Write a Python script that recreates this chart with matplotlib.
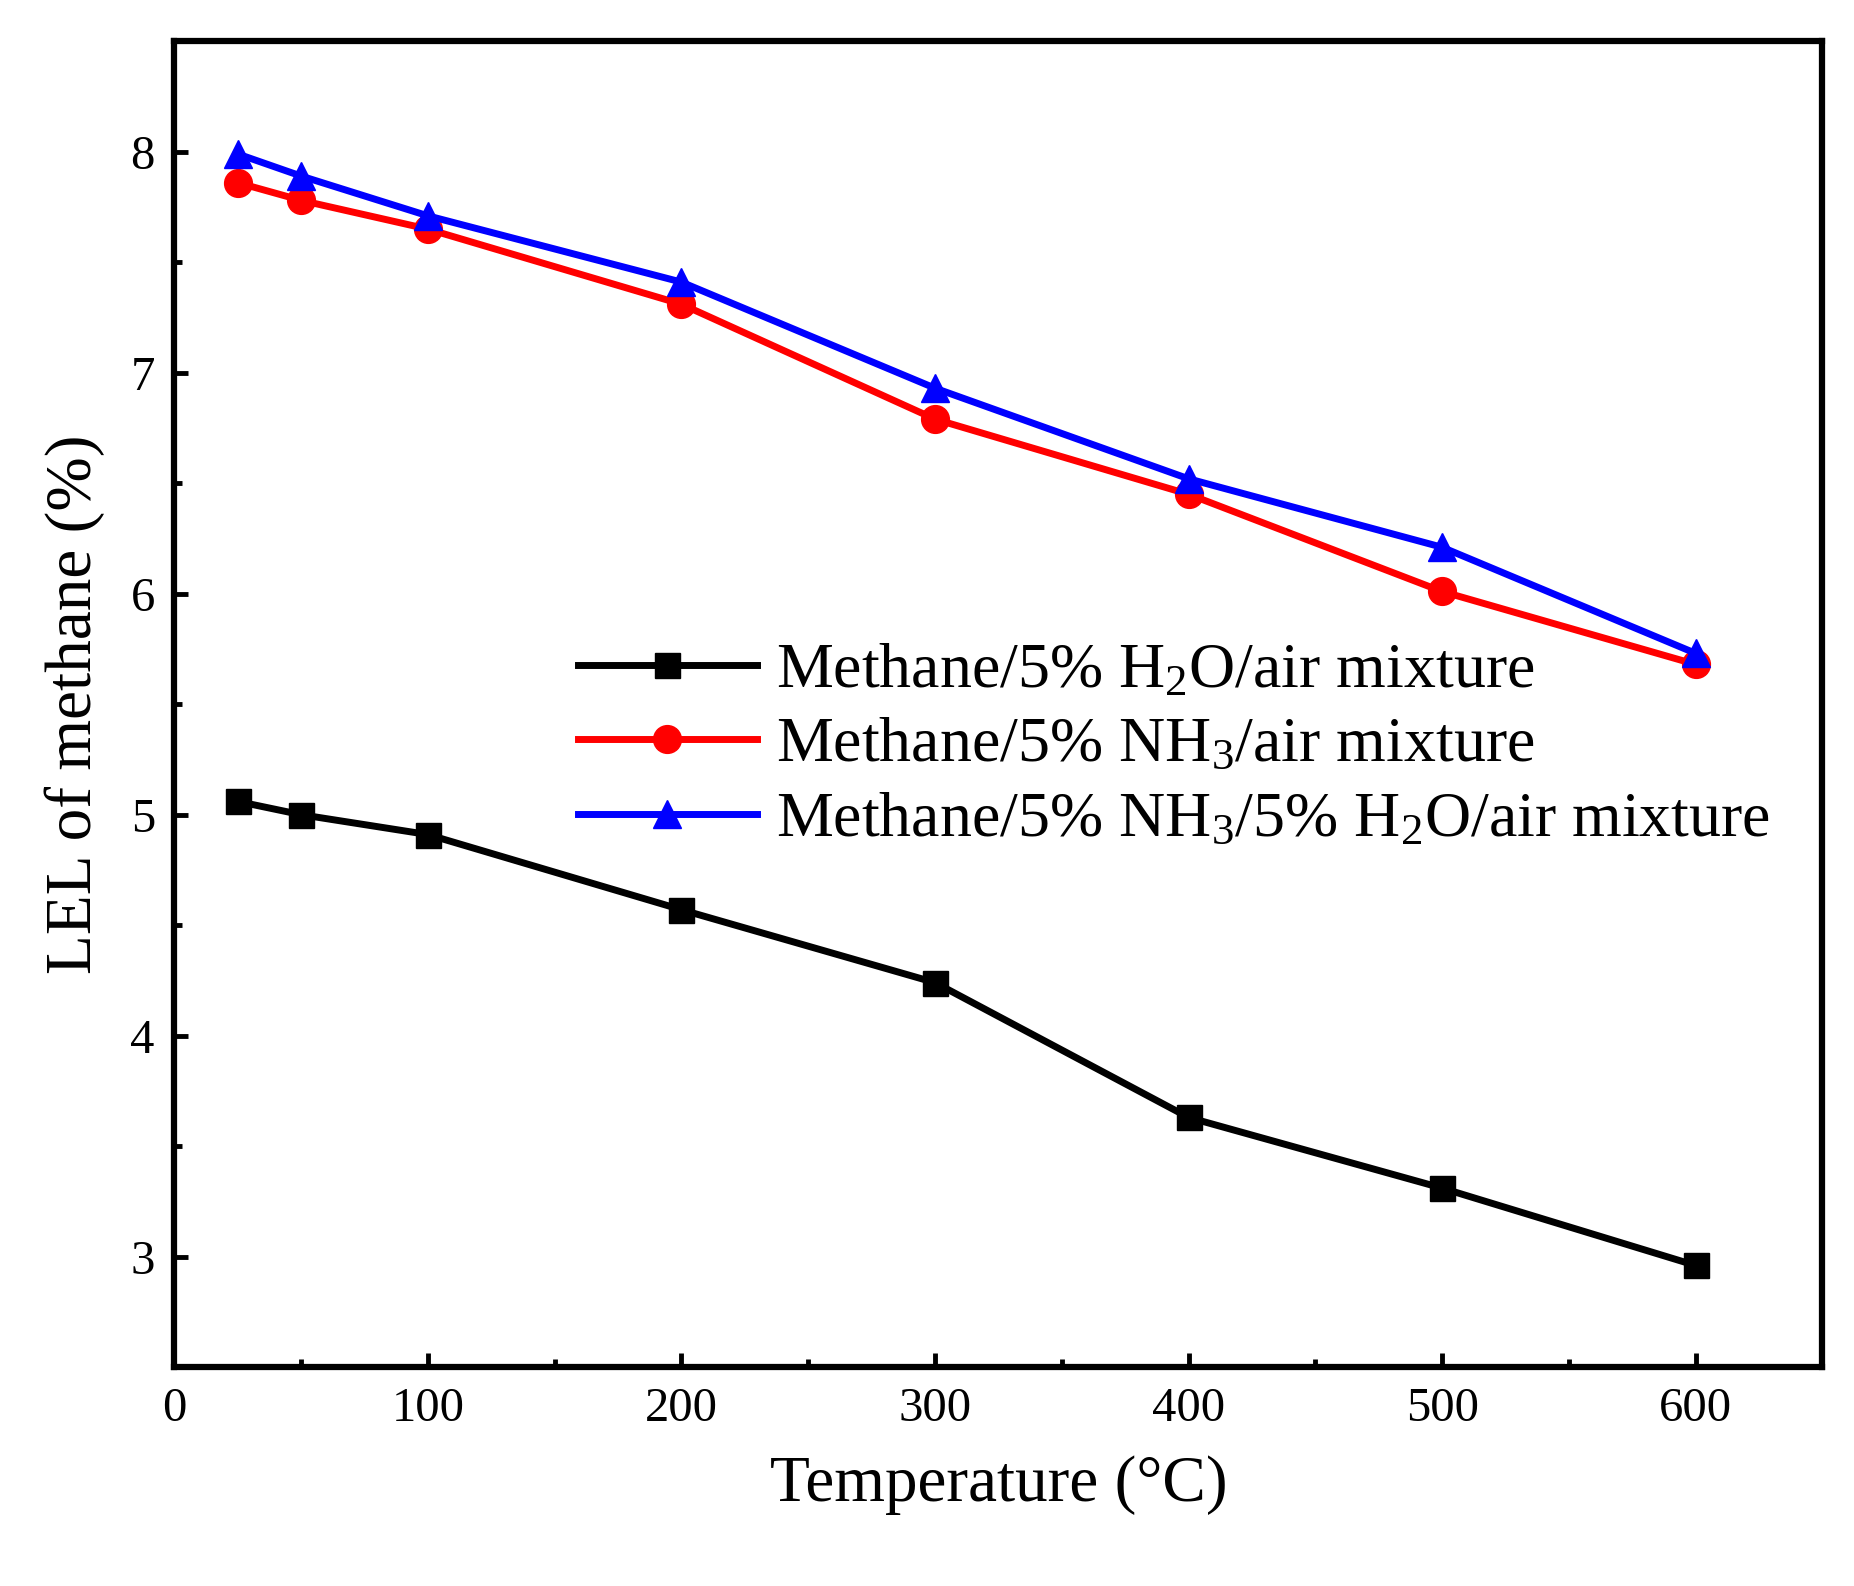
import matplotlib
matplotlib.use("Agg")
import matplotlib.pyplot as plt
from matplotlib.ticker import MultipleLocator

temps = [25, 50, 100, 200, 300, 400, 500, 600]
h2o = [5.06, 5.00, 4.91, 4.57, 4.24, 3.63, 3.31, 2.96]
nh3 = [7.86, 7.78, 7.65, 7.31, 6.79, 6.45, 6.01, 5.68]
nh3_h2o = [7.99, 7.89, 7.71, 7.41, 6.93, 6.52, 6.21, 5.73]
labels = ["Methane/5% H$_2$O/air mixture", "Methane/5% NH$_3$/air mixture",
          "Methane/5% NH$_3$/5% H$_2$O/air mixture"]

plt.rcParams["font.family"] = "Liberation Serif"
plt.rcParams["mathtext.fontset"] = "custom"
plt.rcParams["mathtext.rm"] = "Liberation Serif"
plt.rcParams["mathtext.default"] = "rm"
fig = plt.figure(figsize=(18.54, 15.86), dpi=100)
ax = fig.add_axes([0.094, 0.138, 0.889, 0.836])
ax.plot(temps, h2o, color="black", marker="s", lw=5, ms=18, label=labels[0])
ax.plot(temps, nh3, color="red", marker="o", lw=5, ms=20, label=labels[1])
ax.plot(temps, nh3_h2o, color="blue", marker="^", lw=5, ms=20, label=labels[2])
ax.set_xlim(0, 650)
ax.set_ylim(2.5, 8.5)
ax.xaxis.set_major_locator(MultipleLocator(100))
ax.xaxis.set_minor_locator(MultipleLocator(50))
ax.yaxis.set_major_locator(MultipleLocator(1))
ax.yaxis.set_minor_locator(MultipleLocator(0.5))
ax.tick_params(which="both", direction="in", width=3.5, labelsize=35, pad=14)
ax.tick_params(which="major", length=10)
ax.tick_params(which="minor", length=6)
for s in ax.spines.values():
    s.set_linewidth(4.5)
ax.set_xlabel("Temperature (°C)", fontsize=47, labelpad=18)
ax.set_ylabel("LEL of methane (%)", fontsize=47, labelpad=18)
ax.legend(loc="upper left", bbox_to_anchor=(0.21, 0.59), frameon=False,
          fontsize=46, handlelength=2.8, handletextpad=0.3, labelspacing=0.25)
fig.savefig("out.png")
